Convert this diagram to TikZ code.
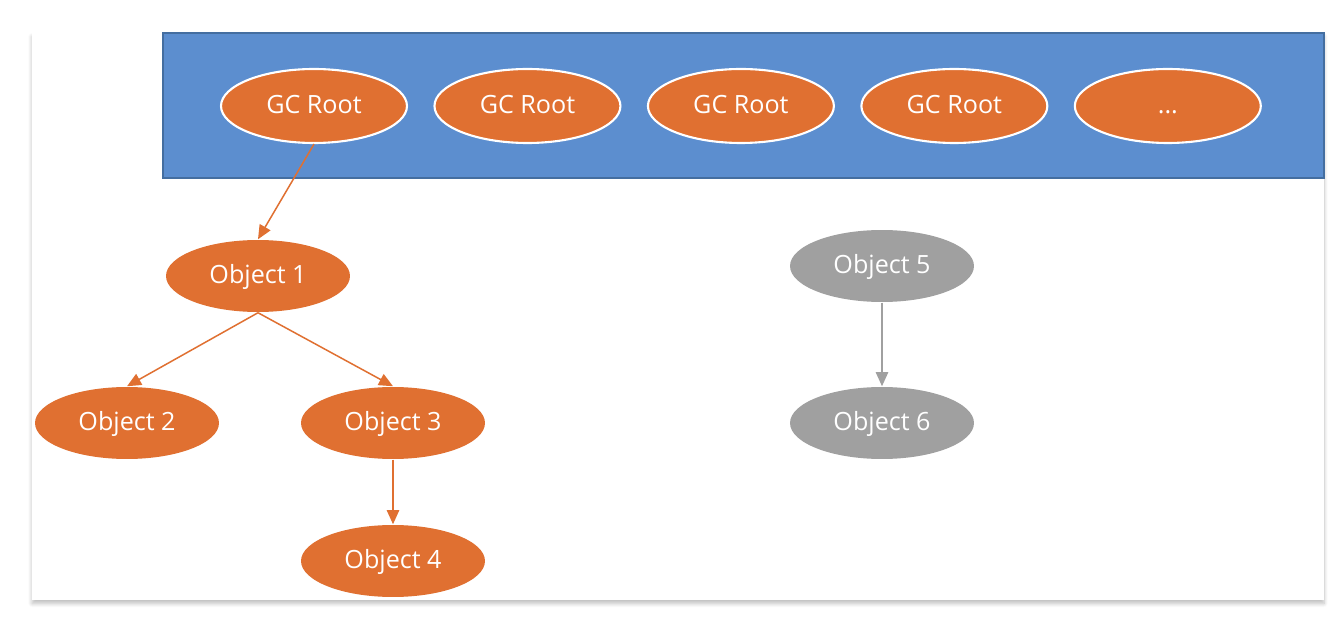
\documentclass[tikz,border=0pt]{standalone}
\usepackage{fontspec}
\setmainfont{Open Sans}
\usetikzlibrary{arrows.meta,shapes.geometric,positioning,shadows.blur}

\definecolor{objorange}{RGB}{224,112,49}
\definecolor{rootblue}{RGB}{92,142,207}
\definecolor{rootedge}{RGB}{68,110,160}
\definecolor{deadgray}{RGB}{160,160,160}

\begin{document}
\begin{tikzpicture}[x=0.02cm,y=0.02cm,
        line width=0.85pt,node distance=4.27cm,
        obj/.style={ellipse,fill=objorange,text=white,minimum width=3.68cm,
          minimum height=1.44cm,inner sep=0pt,text height=1.6ex,text depth=0pt,
          font=\fontsize{14.3}{17}\selectfont},
        gcroot/.style={obj,draw=white,line width=1.2pt,minimum width=3.72cm,
          minimum height=1.48cm},
        dead/.style={obj,fill=deadgray},
        link/.style={-{Triangle[length=8pt,width=7pt,fill=#1]},draw=#1}]

  % pixel grid, y counted downwards
  \useasboundingbox (0,0) rectangle (1332,-631);
  \fill[white,blur shadow={shadow blur steps=8,shadow xshift=0pt,shadow yshift=-2pt,
      shadow opacity=25}] (32,-33) rectangle (1324,-600);
  \draw[fill=rootblue,draw=rootedge,line width=0.6pt] (163,-33) rectangle (1324,-178);

  \node[gcroot] (gc_1) at (314,-106) {GC Root};
  \node[gcroot] (gc_2) [right of=gc_1] {GC Root};
  \node[gcroot] (gc_3) [right of=gc_2] {GC Root};
  \node[gcroot] (gc_4) [right of=gc_3] {GC Root};
  \node[gcroot] (gc_5) [right of=gc_4] {...};

  \node[obj] (obj_1) at (258,-276) {Object 1};
  \node[obj] (obj_2) at (127,-423) {Object 2};
  \node[obj] (obj_3) at (393,-423) {Object 3};
  \node[obj] (obj_4) at (393,-561) {Object 4};
  \node[dead] (obj_5) at (882,-266) {Object 5};
  \node[dead] (obj_6) at (882,-423) {Object 6};

  \path (gc_1.south) edge [link=objorange] (obj_1.north)
        (obj_1.south) edge [link=objorange] (obj_2.north)
        (obj_1.south) edge [link=objorange] (obj_3.north)
        (obj_3.south) edge [link=objorange] (obj_4.north)
        (obj_5.south) edge [link=deadgray]  (obj_6.north);

\end{tikzpicture}
\end{document}
